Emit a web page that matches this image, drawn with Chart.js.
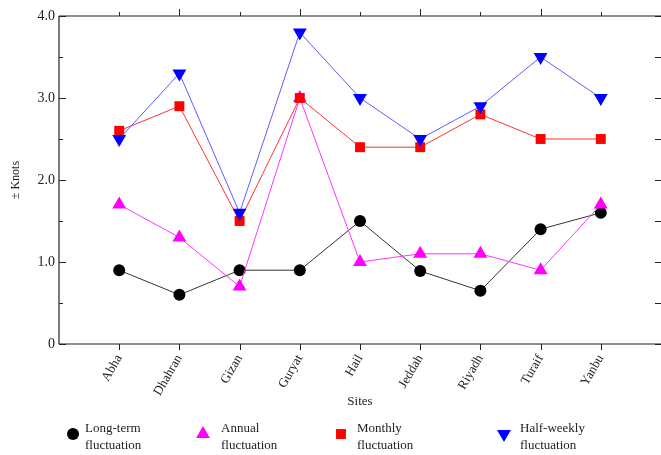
<!DOCTYPE html>
<html>
<head>
<meta charset="utf-8">
<script src="https://cdn.jsdelivr.net/npm/chart.js@4.4.0/dist/chart.umd.min.js"></script>
<style>
  html, body { margin: 0; padding: 0; background: #fff; }
  #wrap { width: 661px; height: 455px; }
</style>
</head>
<body>
<div id="wrap"><canvas id="chart" width="661" height="455"></canvas></div>
<script>
  // ---- Data ----------------------------------------------------
  var sites = ['Abha', 'Dhahran', 'Gizan', 'Guryat', 'Hail', 'Jeddah', 'Riyadh', 'Turaif', 'Yanbu'];
  var longTerm = [0.9, 0.6, 0.9, 0.9, 1.5, 0.89, 0.65, 1.4, 1.6];
  var annual = [1.7, 1.3, 0.7, 3.0, 1.0, 1.1, 1.1, 0.9, 1.7];
  var monthly = [2.6, 2.9, 1.5, 3.0, 2.4, 2.4, 2.8, 2.5, 2.5];
  var halfWeekly = [2.5, 3.3, 1.6, 3.8, 3.0, 2.5, 2.9, 3.5, 3.0];

  var yTicks = [0, 1, 2, 3, 4];
  var yTickLabels = ['0', '1.0', '2.0', '3.0', '4.0'];
  var yTickMarks = [0, 0.5, 1, 1.5, 2, 2.5, 3, 3.5, 4];

  var legendLines = [
    ['Long-term', 'fluctuation'],
    ['Annual', 'fluctuation'],
    ['Monthly', 'fluctuation'],
    ['Half-weekly', 'fluctuation']
  ];

  var SERIF = "'Liberation Serif', 'Times New Roman', serif";

  function toPoints(arr) {
    return arr.map(function (v, i) { return { x: i + 1, y: v }; });
  }

  function series(label, data, lineColor, markColor, style, radius, rotation, order) {
    return {
      label: label,
      data: toPoints(data),
      borderColor: lineColor,
      borderWidth: 1,
      backgroundColor: markColor,
      pointBackgroundColor: markColor,
      pointBorderColor: markColor,
      pointBorderWidth: 0,
      pointStyle: style,
      pointRadius: radius,
      pointRotation: rotation,
      tension: 0,
      fill: false,
      order: order
    };
  }

  var datasets = [
    series('Long-term fluctuation', longTerm, '#333333', '#000000', 'circle', 6, 0, 4),
    series('Annual fluctuation', annual, '#ff33ff', '#ff00ff', 'triangle', 8, 0, 3),
    series('Monthly fluctuation', monthly, '#ff3333', '#ff0000', 'rect', 7, 0, 2),
    series('Half-weekly fluctuation', halfWeekly, '#5c5cff', '#0000ff', 'triangle', 8, 180, 1)
  ];

  // ---- Frame with inside / outside tick marks ---------------
  // (right axis line sits just past the canvas edge in the original,
  //  so only its tick marks are drawn)
  var framePlugin = {
    id: 'frame',
    beforeDatasetsDraw: function (chart) {
      var ctx = chart.ctx;
      var a = chart.chartArea;
      var xs = chart.scales.x;
      var ys = chart.scales.y;
      ctx.save();
      ctx.strokeStyle = '#222';
      ctx.lineWidth = 1.2;
      ctx.beginPath();
      ctx.moveTo(a.left, a.top); ctx.lineTo(a.left, a.bottom);
      ctx.moveTo(a.left, a.bottom); ctx.lineTo(a.right, a.bottom);
      ctx.moveTo(a.left, a.top); ctx.lineTo(a.right, a.top);
      ctx.stroke();

      ctx.lineWidth = 1;
      ctx.beginPath();
      yTickMarks.forEach(function (v) {
        var py = Math.round(ys.getPixelForValue(v)) + 0.5;
        var len = (v % 1 === 0) ? 7 : 4;
        ctx.moveTo(a.left, py); ctx.lineTo(a.left + len, py);
        ctx.moveTo(a.right, py); ctx.lineTo(a.right - 6, py);
      });
      sites.forEach(function (s, i) {
        var px = Math.round(xs.getPixelForValue(i + 1)) + 0.5;
        ctx.moveTo(px, a.bottom); ctx.lineTo(px, a.bottom + 6);
        ctx.moveTo(px, a.top); ctx.lineTo(px, a.top - (i % 2 === 1 ? 7 : 4));
      });
      ctx.stroke();
      ctx.restore();
    },
    afterDraw: function (chart) {
      // legend below the plot, two text lines per entry
      var ctx = chart.ctx;
      var markX = [73, 203, 341, 504];
      var textX = [85, 221, 357, 520];
      var markY = 434;
      ctx.save();
      ctx.font = '13px ' + SERIF;
      ctx.textBaseline = 'middle';
      ctx.textAlign = 'left';
      datasets.forEach(function (ds, i) {
        ctx.fillStyle = ds.pointBackgroundColor;
        ctx.strokeStyle = ds.pointBackgroundColor;
        Chart.helpers.drawPoint(ctx, {
          pointStyle: ds.pointStyle,
          radius: ds.pointRadius,
          rotation: ds.pointRotation,
          borderWidth: 0
        }, markX[i], markY);
        ctx.fillStyle = '#222';
        ctx.fillText(legendLines[i][0], textX[i], 429);
        ctx.fillText(legendLines[i][1], textX[i], 446);
      });
      ctx.restore();
    }
  };

  new Chart(document.getElementById('chart').getContext('2d'), {
    type: 'line',
    data: { datasets: datasets },
    options: {
      responsive: false,
      animation: false,
      layout: { autoPadding: false, padding: { top: 16, right: 0, bottom: 45, left: 0 } },
      plugins: {
        legend: { display: false },
        tooltip: { enabled: false }
      },
      scales: {
        x: {
          type: 'linear',
          min: 0,
          max: 10,
          afterFit: function (scale) {
            scale.height = 66;
            scale.paddingLeft = 0;
            scale.paddingRight = 0;
          },
          grid: { display: false, drawTicks: false },
          border: { display: false },
          ticks: {
            stepSize: 1,
            autoSkip: false,
            minRotation: 60,
            maxRotation: 60,
            padding: 8,
            color: '#222',
            font: { family: SERIF, size: 13 },
            callback: function (v) { return sites[v - 1] || ''; }
          },
          title: {
            display: true,
            text: 'Sites',
            color: '#222',
            font: { family: SERIF, size: 13 },
            padding: { top: 0, bottom: 1 }
          }
        },
        y: {
          min: 0,
          max: 4,
          afterFit: function (scale) {
            scale.width = 59;
            scale.paddingTop = 0;
            scale.paddingBottom = 0;
          },
          grid: { display: false, drawTicks: false },
          border: { display: false },
          ticks: {
            stepSize: 1,
            padding: 4,
            color: '#222',
            font: { family: SERIF, size: 14 },
            callback: function (v) {
              var k = yTicks.indexOf(v);
              return k >= 0 ? yTickLabels[k] : '';
            }
          },
          title: {
            display: true,
            text: '\u00b1 Knots',
            color: '#222',
            font: { family: SERIF, size: 12 },
            padding: { top: 9, bottom: 0 }
          }
        }
      }
    },
    plugins: [framePlugin]
  });
</script>
</body>
</html>
